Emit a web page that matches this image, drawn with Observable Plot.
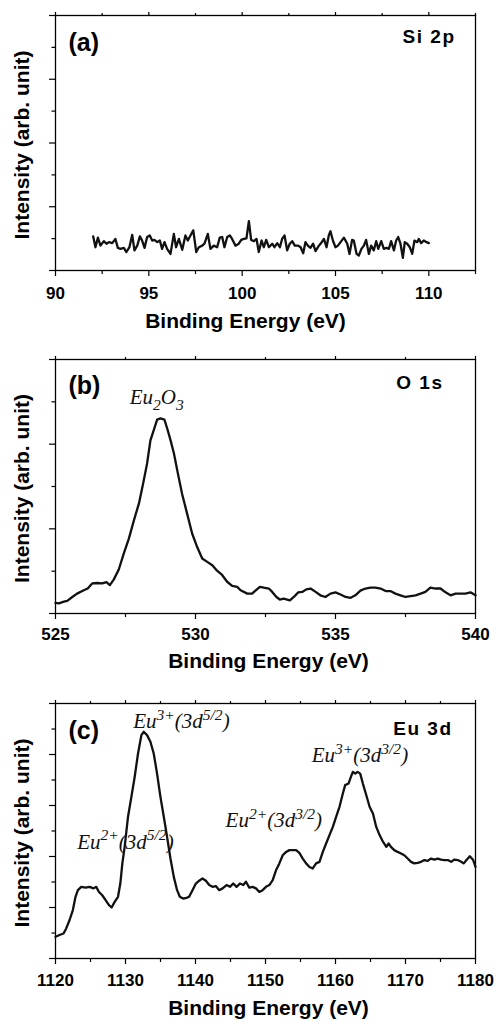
<!DOCTYPE html>
<html>
<head>
<meta charset="utf-8">
<script src="https://cdn.jsdelivr.net/npm/d3@7"></script>
<script src="https://cdn.jsdelivr.net/npm/@observablehq/plot@0.6"></script>
<style>
  html, body { margin: 0; padding: 0; background: #fff; }
  #chart svg { display: block; }
</style>
</head>
<body>
<div id="chart"></div>
<script>
// ---------- Panel (a) Si 2p ----------
const siEnergy = [92.02,92.14,92.27,92.41,92.59,92.73,92.86,93.04,93.21,93.34,93.48,93.66,93.80,93.96,94.11,94.23,94.38,94.52,94.64,94.77,94.91,95.05,95.18,95.30,95.45,95.59,95.71,95.84,95.98,96.16,96.34,96.46,96.61,96.79,96.96,97.09,97.23,97.38,97.54,97.68,97.86,97.98,98.16,98.30,98.48,98.66,98.80,98.93,99.05,99.20,99.34,99.46,99.64,99.82,99.95,100.09,100.23,100.36,100.48,100.63,100.77,100.89,101.04,101.16,101.29,101.43,101.61,101.73,101.88,102.02,102.14,102.27,102.41,102.55,102.68,102.82,103.00,103.13,103.27,103.39,103.52,103.66,103.80,103.93,104.11,104.23,104.38,104.52,104.64,104.73,104.86,105.00,105.13,105.27,105.45,105.63,105.75,105.89,105.98,106.13,106.25,106.39,106.52,106.64,106.79,106.91,107.05,107.18,107.29,107.45,107.59,107.73,107.86,107.98,108.13,108.25,108.36,108.48,108.61,108.71,108.84,108.98,109.11,109.23,109.38,109.46,109.59,109.73,109.88,110.00];
const siIntensity = [1.07,0.73,1.03,0.78,0.92,0.84,0.89,0.86,0.99,0.71,0.68,0.71,0.58,0.73,1.12,0.63,0.78,1.07,0.94,0.71,1.05,1.10,0.94,0.96,0.89,0.94,0.68,0.89,0.68,0.52,1.15,0.73,0.99,0.65,1.10,0.94,1.10,1.26,0.58,0.73,0.78,0.84,1.15,0.68,0.78,0.73,1.03,1.05,0.73,1.05,1.10,0.99,0.78,0.84,0.96,0.99,1.01,1.55,0.96,0.92,0.99,0.58,0.94,0.73,0.96,0.73,0.84,0.73,0.86,0.73,0.99,1.10,0.63,0.84,0.92,0.78,0.78,0.73,0.54,0.89,0.78,0.71,0.84,0.61,0.78,0.86,0.99,0.73,1.10,1.23,0.94,0.73,0.78,0.89,1.03,0.84,0.52,0.96,0.94,0.52,0.47,0.68,0.78,0.96,0.52,0.78,0.63,0.92,0.68,0.92,0.68,0.71,0.68,0.92,0.63,0.94,1.05,0.84,0.40,0.89,0.84,0.73,0.52,0.94,0.89,0.99,0.86,0.94,0.89,0.86];

// ---------- Panel (b) O 1s ----------
const oEnergy = [525.00,525.12,525.30,525.42,525.60,525.77,526.01,526.15,526.31,526.49,526.67,526.82,526.94,527.08,527.26,527.44,527.62,527.80,527.98,528.13,528.27,528.39,528.51,528.63,528.75,528.89,528.99,529.11,529.23,529.37,529.52,529.70,529.88,530.06,530.24,530.42,530.60,530.77,530.95,531.13,531.31,531.49,531.61,531.85,532.02,532.14,532.30,532.44,532.62,532.74,532.89,533.01,533.15,533.37,533.51,533.67,533.81,533.96,534.11,534.29,534.46,534.64,534.82,535.00,535.18,535.36,535.54,535.71,535.89,536.07,536.25,536.43,536.61,536.79,536.96,537.14,537.32,537.50,537.68,537.86,538.04,538.21,538.39,538.57,538.75,538.93,539.11,539.29,539.46,539.64,539.82,540.00];
const oIntensity = [0.25,0.24,0.28,0.30,0.39,0.47,0.55,0.59,0.71,0.72,0.71,0.74,0.67,0.80,1.04,1.42,1.77,2.20,2.60,3.07,3.54,4.09,4.33,4.58,4.61,4.58,4.37,4.09,3.78,3.31,2.83,2.36,1.89,1.57,1.30,1.22,1.14,1.01,0.91,0.75,0.65,0.63,0.55,0.47,0.47,0.54,0.63,0.61,0.59,0.51,0.39,0.33,0.35,0.31,0.39,0.50,0.51,0.57,0.59,0.51,0.43,0.39,0.47,0.50,0.45,0.39,0.37,0.43,0.54,0.59,0.61,0.61,0.59,0.53,0.53,0.47,0.43,0.39,0.41,0.43,0.47,0.51,0.61,0.59,0.59,0.50,0.43,0.47,0.47,0.47,0.50,0.43];

// ---------- Panel (c) Eu 3d ----------
const euEnergy = [1120.00,1120.57,1121.15,1121.53,1122.00,1122.48,1122.86,1123.20,1123.68,1124.30,1124.87,1125.44,1125.82,1126.21,1126.68,1127.16,1127.64,1128.02,1128.45,1128.93,1129.26,1129.55,1129.88,1130.36,1130.84,1131.31,1131.79,1132.27,1132.60,1133.08,1133.56,1134.03,1134.51,1134.99,1135.47,1135.94,1136.42,1136.90,1137.37,1137.76,1138.23,1138.71,1139.09,1139.57,1140.05,1140.53,1141.00,1141.48,1141.96,1142.43,1142.91,1143.39,1143.87,1144.44,1144.92,1145.39,1145.87,1146.35,1146.83,1147.21,1147.68,1148.16,1148.64,1149.12,1149.59,1150.07,1150.55,1151.03,1151.50,1151.98,1152.46,1152.94,1153.41,1153.89,1154.37,1154.84,1155.32,1155.80,1156.28,1156.75,1157.23,1157.71,1158.19,1158.66,1159.14,1159.62,1160.10,1160.57,1161.05,1161.38,1161.86,1162.20,1162.48,1162.82,1163.15,1163.53,1163.91,1164.39,1164.87,1165.35,1165.82,1166.30,1166.78,1167.26,1167.59,1167.92,1168.40,1168.88,1169.36,1169.83,1170.31,1170.79,1171.26,1171.74,1172.22,1172.70,1173.17,1173.65,1174.13,1174.61,1175.08,1175.56,1176.04,1176.52,1176.99,1177.47,1177.95,1178.33,1178.71,1179.19,1179.67,1180.00];
const euIntensity = [0.85,0.92,0.98,1.18,1.50,1.90,2.42,2.68,2.81,2.78,2.81,2.75,2.81,2.61,2.48,2.29,2.09,2.00,2.22,2.42,2.94,3.73,4.38,5.56,6.34,7.12,8.04,8.76,8.89,8.76,8.50,8.04,7.25,6.34,5.56,4.77,3.92,3.20,2.68,2.42,2.35,2.38,2.42,2.68,2.94,3.05,3.14,3.05,2.88,2.81,2.84,2.68,2.75,2.88,2.81,2.94,2.81,2.94,2.88,3.01,2.78,2.81,2.75,2.61,2.68,2.81,2.88,3.07,3.46,3.73,4.05,4.18,4.25,4.25,4.25,4.14,3.92,3.73,3.59,3.53,3.73,3.79,4.18,4.51,4.84,5.16,5.56,5.95,6.47,6.80,6.86,7.12,7.32,7.25,7.32,7.25,6.86,6.41,5.95,5.69,5.16,4.84,4.58,4.38,4.51,4.38,4.25,4.18,4.12,4.05,3.92,3.79,3.73,3.75,3.79,3.86,3.83,3.92,3.88,3.92,3.88,3.86,3.86,3.79,3.88,3.86,3.79,3.73,3.86,4.01,3.86,3.59];

// ---------- Ticks ----------
const aXMajor = [90, 95, 100, 105, 110];
const aXMinor = [92.5, 97.5, 102.5, 107.5, 112.5];
const aYMajor = [0, 2, 4, 6, 8];
const aYMinor = [1, 3, 5, 7];
const bXMajor = [525, 530, 535, 540];
const bXMinor = [527.5, 532.5, 537.5];
const bYMajor = [0, 2, 4, 6];
const bYMinor = [1, 3, 5];
const cXMajor = [1120, 1130, 1140, 1150, 1160, 1170, 1180];
const cXMinor = [1125, 1135, 1145, 1155, 1165, 1175];
const cYMajor = [0, 2, 4, 6, 8, 10];
const cYMinor = [1, 3, 5, 7, 9];

// ---------- Texts ----------
const panelTags = ["(a)", "(b)", "(c)"];
const coreLevels = ["Si 2p", "O 1s", "Eu 3d"];
const xTitle = "Binding Energy (eV)";
const yTitle = "Intensity (arb. unit)";

// peak annotations (data coordinates)
const bPeakLabels = ["Eu_{2}O_{3}"];
const bPeakX = [527.65];
const bPeakY = [4.94];
const cPeakLabels = ["Eu^{3+}(3d^{5/2})", "Eu^{2+}(3d^{5/2})", "Eu^{2+}(3d^{3/2})", "Eu^{3+}(3d^{3/2})"];
const cPeakX = [1131.1, 1123.1, 1144.3, 1156.6];
const cPeakY = [9.02, 4.31, 5.14, 7.71];

const SANS = "'Liberation Sans', Arial, Helvetica, sans-serif";
const SERIF = "'Liberation Serif', 'Times New Roman', serif";
const ANN_SIZE = 21;

function panel(o) {
  return Plot.plot({
    width: 500,
    height: o.height,
    marginLeft: 55,
    marginRight: 25,
    marginTop: o.mt,
    marginBottom: o.mb,
    style: {fontFamily: SANS, color: "#000", background: "#fff", overflow: "visible"},
    x: {domain: o.xDomain, label: null},
    y: {domain: o.yDomain, label: null},
    marks: [
      Plot.axisX({ticks: o.xMajor, tickSize: 6, tickPadding: o.tp, tickFormat: d => String(d), label: null,
                  fontSize: 17, fontWeight: "bold", strokeWidth: 1.2, fill: "#000", stroke: "#000"}),
      Plot.axisX({ticks: o.xMinor, tickSize: 4, label: null, fill: "none", stroke: "#000", strokeWidth: 1.2}),
      Plot.axisX({anchor: "top", ticks: o.xMajor, tickSize: 4, label: null, fill: "none", stroke: "#000", strokeWidth: 1.2}),
      Plot.axisX({anchor: "top", ticks: o.xMinor, tickSize: 3, label: null, fill: "none", stroke: "#000", strokeWidth: 1.2}),
      Plot.axisY({ticks: o.yMajor, tickSize: 6, label: null, fill: "none", stroke: "#000", strokeWidth: 1.2}),
      Plot.axisY({ticks: o.yMinor, tickSize: 3.5, label: null, fill: "none", stroke: "#000", strokeWidth: 1.2}),
      Plot.frame({stroke: "#000", strokeWidth: 1.3}),
      Plot.line(o.ys, {x: o.xs, y: o.ys, stroke: "#111", strokeWidth: 2.3, strokeLinejoin: "round"}),
      Plot.text([o.tag], {text: d => d, frameAnchor: "top-left", dx: 13, dy: o.tagDy, lineAnchor: "bottom",
                          textAnchor: "start", fontSize: 25, fontWeight: "bold"}),
      Plot.text([o.core], {text: d => d, frameAnchor: "top-right", dx: o.coreDx, dy: o.coreDy, lineAnchor: "bottom",
                           textAnchor: "end", fontSize: 19, fontWeight: "bold"}),
      Plot.text([xTitle], {text: d => d, frameAnchor: "bottom", dx: o.xtDx, dy: o.xtDy, lineAnchor: "bottom",
                           textAnchor: "middle", fontSize: 21, fontWeight: "bold"}),
      Plot.text([yTitle], {text: d => d, frameAnchor: "left", dx: -26.5, dy: 2, rotate: -90, lineAnchor: "bottom",
                           textAnchor: "middle", fontSize: 21, fontWeight: "bold"}),
      o.ann ? Plot.text(o.ann.labels, {x: o.ann.x, y: o.ann.y, text: o.ann.labels, textAnchor: "start",
                        lineAnchor: "bottom", fontFamily: SERIF, fontStyle: "italic", fontSize: ANN_SIZE, fill: "#111"}) : null
    ]
  });
}

// Turn "Eu^{3+}" / "Eu_{2}" into real superscript / subscript tspans
function richText(svg) {
  const S = ANN_SIZE;
  d3.select(svg).selectAll("text").each(function() {
    const s = this.textContent;
    if (coreLevels.includes(s)) this.style.letterSpacing = "1.5px";
    if (!/[\^_]\{/.test(s)) return;
    this.textContent = "";
    const re = /([\^_])\{([^}]*)\}|([^\^_]+)/g;
    let m, cur = 0;
    while ((m = re.exec(s))) {
      const t = document.createElementNS("http://www.w3.org/2000/svg", "tspan");
      let target, txt;
      if (m[3] !== undefined) { target = 0; txt = m[3]; }
      else {
        target = m[1] === "^" ? -0.4 * S : 0.27 * S; txt = m[2];
        t.setAttribute("font-size", (0.74 * S) + "px");
      }
      if (target !== cur) t.setAttribute("dy", (target - cur) + "px");
      cur = target;
      t.textContent = txt;
      this.appendChild(t);
    }
  });
  return svg;
}

const root = document.getElementById("chart");
root.appendChild(richText(panel({
  height: 340, mt: 15, mb: 70, tp: 10,
  xDomain: [90, 112.5], yDomain: [0, 8],
  xMajor: aXMajor, xMinor: aXMinor, yMajor: aYMajor, yMinor: aYMinor,
  xs: siEnergy, ys: siIntensity,
  tag: panelTags[0], tagDy: 35, core: coreLevels[0], coreDx: -20, coreDy: 27,
  xtDx: -20, xtDy: 57
})));
root.appendChild(richText(panel({
  height: 340, mt: 19, mb: 67, tp: 8,
  xDomain: [525, 540], yDomain: [0, 6],
  xMajor: bXMajor, xMinor: bXMinor, yMajor: bYMajor, yMinor: bYMinor,
  xs: oEnergy, ys: oIntensity,
  tag: panelTags[1], tagDy: 34, core: coreLevels[1], coreDx: -32, coreDy: 29,
  xtDx: 3, xtDy: 54,
  ann: {labels: bPeakLabels, x: bPeakX, y: bPeakY}
})));
root.appendChild(richText(panel({
  height: 341, mt: 23, mb: 63, tp: 9,
  xDomain: [1120, 1180], yDomain: [0, 10],
  xMajor: cXMajor, xMinor: cXMinor, yMajor: cYMajor, yMinor: cYMinor,
  xs: euEnergy, ys: euIntensity,
  tag: panelTags[2], tagDy: 35, core: coreLevels[2], coreDx: -23, coreDy: 31,
  xtDx: 3, xtDy: 56,
  ann: {labels: cPeakLabels, x: cPeakX, y: cPeakY}
})));
</script>
</body>
</html>
